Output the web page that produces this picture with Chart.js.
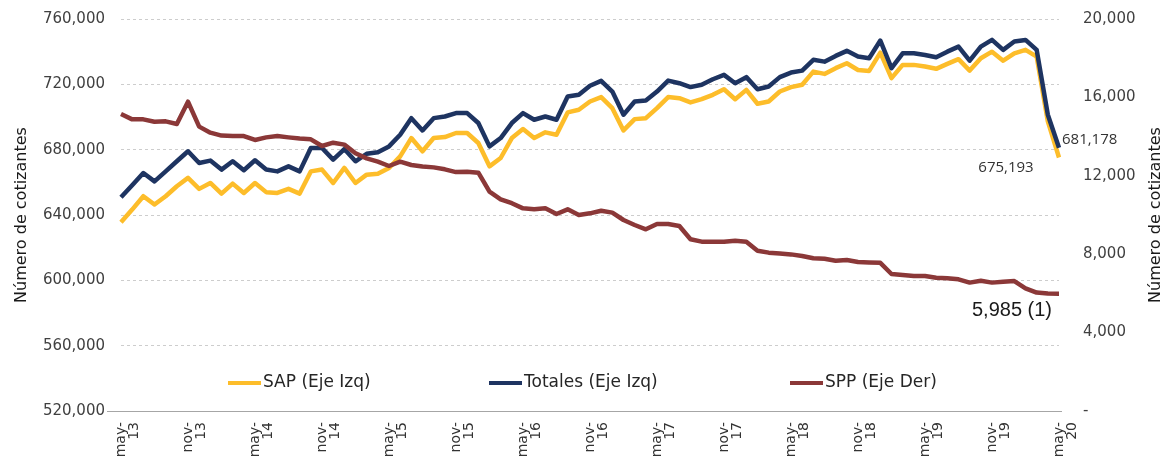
<!DOCTYPE html>
<html>
<head>
<meta charset="utf-8">
<script src="https://cdn.jsdelivr.net/npm/chart.js@4.4.1/dist/chart.umd.min.js"></script>
<style>
  html, body { margin: 0; padding: 0; background: #fff; }
  #wrap { width: 1167px; height: 475px; position: relative; }
</style>
</head>
<body>
<div id="wrap"><canvas id="chart"></canvas></div>
<script>
// monthly data, may-13 .. may-20
const monthNames = ['ene', 'feb', 'mar', 'abr', 'may', 'jun', 'jul', 'ago', 'sep', 'oct', 'nov', 'dic']
const categories = []
for (let k = 0; k < 85; k++) {
  const m = (4 + k) % 12
  const y = 13 + Math.floor((4 + k) / 12)
  categories.push(monthNames[m] + '-' + y)
}

const sap = [
  635600, 643300, 651500, 646400, 651500, 657600, 662700, 656000, 659600, 653100,
  659200, 653500, 659600, 654000, 653500, 656000, 653100, 666700, 667800, 659600,
  668800, 659600, 664700, 665300, 668800, 675900, 687100, 679000, 687100, 687700,
  690200, 690200, 684100, 669800, 674900, 687100, 692600, 687100, 690600, 689100,
  702800, 704400, 709500, 712200, 705400, 691800, 698700, 699300, 705400, 712200,
  711500, 708900, 710900, 713600, 717000, 710900, 716600, 708100, 709500, 715600,
  718300, 719700, 727800, 726400, 729900, 732900, 728800, 728200, 739400, 723800,
  731900, 731900, 730900, 729500, 732500, 735400, 728400, 736000, 740000, 734500,
  739000, 741100, 737000, 697300, 675193
]

const totales = [
  650900, 658200, 665700, 660600, 666700, 672900, 679000, 671800, 673300, 667800,
  672900, 667400, 673500, 667800, 666700, 669800, 666700, 681000, 681000, 673900,
  680400, 672900, 677500, 678400, 682000, 689100, 699300, 691800, 699300, 700300,
  702400, 702400, 696300, 682000, 687100, 696300, 702400, 698300, 700300, 698300,
  712600, 713600, 719100, 722100, 715600, 701400, 709500, 710100, 715600, 722300,
  720700, 718300, 719700, 723100, 725800, 720700, 724400, 717000, 718700, 724400,
  727200, 728400, 735000, 733900, 737400, 740500, 737000, 736000, 746800, 729900,
  739000, 739000, 738000, 736600, 740000, 743100, 734500, 743100, 747200, 741100,
  746200, 747200, 741100, 701400, 681178
]

const spp = [
  15150, 14880, 14880, 14760, 14780, 14640, 15780, 14510, 14200, 14050,
  14030, 14030, 13830, 13960, 14030, 13960, 13900, 13860, 13520, 13690,
  13590, 13150, 12890, 12720, 12500, 12720, 12550, 12470, 12430, 12330,
  12190, 12210, 12160, 11190, 10800, 10600, 10340, 10290, 10340, 10050,
  10290, 10000, 10085, 10220, 10120, 9745, 9490, 9270, 9540, 9540,
  9440, 8760, 8640, 8640, 8640, 8690, 8640, 8180, 8080, 8040,
  7990, 7910, 7790, 7770, 7670, 7700, 7600, 7580, 7560, 6990,
  6940, 6890, 6890, 6800, 6770, 6720, 6550, 6650, 6550, 6600,
  6630, 6260, 6040, 5990, 5985
]

const seriesNames = ['SAP (Eje Izq)', 'Totales (Eje Izq)', 'SPP (Eje Der)']
const seriesColors = ['#FDBD2A', '#1E3461', '#8B3838']
const axisTitle = 'Número de cotizantes'

const fmt = v => v.toLocaleString('en-US')

// titles, legend and end-of-line labels
const overlay = {
  id: 'overlay',
  afterDraw(chart) {
    const ctx = chart.ctx
    const area = chart.chartArea
    ctx.save()

    // base line runs a bit left of the plot, like the original
    ctx.strokeStyle = '#a6a6a6'
    ctx.lineWidth = 1
    ctx.beginPath()
    ctx.moveTo(107, area.bottom + 0.5)
    ctx.lineTo(area.right + 3, area.bottom + 0.5)
    ctx.stroke()

    ctx.fillStyle = '#1a1a1a'
    ctx.font = '16px "DejaVu Sans"'
    ctx.textAlign = 'center'
    ctx.textBaseline = 'middle'
    ;[[22, 215], [1156, 215]].forEach(([x, y]) => {
      ctx.save()
      ctx.translate(x, y)
      ctx.rotate(-Math.PI / 2)
      ctx.fillText(axisTitle, 0, 0)
      ctx.restore()
    })

    // legend
    const legendX = [228, 489, 790]
    const legendY = 383
    ctx.textAlign = 'left'
    ctx.font = '17px "DejaVu Sans"'
    seriesNames.forEach((name, i) => {
      ctx.strokeStyle = seriesColors[i]
      ctx.lineWidth = 4
      ctx.beginPath()
      ctx.moveTo(legendX[i], legendY)
      ctx.lineTo(legendX[i] + 33, legendY)
      ctx.stroke()
      ctx.fillStyle = '#262626'
      ctx.fillText(name, legendX[i] + 35, legendY)
    })

    // last values
    const last = categories.length - 1
    const pSap = chart.getDatasetMeta(0).data[last]
    const pTot = chart.getDatasetMeta(1).data[last]
    const pSpp = chart.getDatasetMeta(2).data[last]
    ctx.fillStyle = '#333'
    ctx.font = '15px "Open Sans"'
    ctx.textAlign = 'left'
    ctx.fillText(fmt(totales[last]), pTot.x + 3, pTot.y - 8)
    ctx.textAlign = 'center'
    ctx.fillText(fmt(sap[last]), pSap.x - 53, pSap.y + 10)
    ctx.font = '20px "Liberation Sans"'
    ctx.fillStyle = '#1a1a1a'
    ctx.fillText(fmt(spp[last]) + ' (1)', pSpp.x - 47, pSpp.y + 17)

    ctx.restore()
  }
}

const fitY = width => s => {
  s.width = width
  s.paddingTop = 0
  s.paddingBottom = 0
}

const ctx = document.getElementById('chart').getContext('2d')
new Chart(ctx, {
  type: 'line',
  data: {
    labels: categories,
    datasets: [
      { label: seriesNames[0], data: sap, yAxisID: 'y', borderColor: seriesColors[0], order: 2 },
      { label: seriesNames[1], data: totales, yAxisID: 'y', borderColor: seriesColors[1], order: 1 },
      { label: seriesNames[2], data: spp, yAxisID: 'y1', borderColor: seriesColors[2], order: 0 }
    ]
  },
  options: {
    responsive: true,
    maintainAspectRatio: false,
    animation: false,
    layout: { padding: { top: 19, left: 0, right: 0, bottom: 0 } },
    elements: {
      line: { borderWidth: 4.5, tension: 0, fill: false, borderJoinStyle: 'round' },
      point: { radius: 0 }
    },
    scales: {
      x: {
        offset: false,
        grid: { drawOnChartArea: false, drawTicks: false },
        border: { display: true, color: '#a6a6a6', width: 1 },
        ticks: {
          autoSkip: false,
          minRotation: 90,
          maxRotation: 90,
          padding: 11,
          color: '#333',
          font: { family: 'DejaVu Sans', size: 14, lineHeight: 0.95 },
          callback: (v, i) => {
            if (i % 6 !== 0) return null
            const parts = categories[i].split('-')
            return [parts[0] + '-', parts[1]]
          }
        },
        afterFit: s => {
          s.height = 64
          s.paddingLeft = 0
          s.paddingRight = 0
        }
      },
      y: {
        position: 'left',
        min: 520000,
        max: 760000,
        grid: { color: '#cdcdcd', drawTicks: false },
        border: { display: false, dash: [3, 3] },
        ticks: {
          stepSize: 40000,
          padding: 16,
          color: '#404040',
          font: { family: 'DejaVu Sans', size: 15 },
          callback: v => fmt(v)
        },
        afterFit: fitY(121)
      },
      y1: {
        position: 'right',
        min: 0,
        max: 20000,
        grid: { display: false, drawTicks: false },
        border: { display: false },
        ticks: {
          stepSize: 4000,
          padding: 24,
          color: '#404040',
          font: { family: 'DejaVu Sans', size: 15 },
          callback: v => v === 0 ? '-' : fmt(v)
        },
        afterFit: fitY(108)
      }
    },
    plugins: {
      legend: { display: false },
      tooltip: { enabled: false }
    }
  },
  plugins: [overlay]
})
</script>
</body>
</html>
